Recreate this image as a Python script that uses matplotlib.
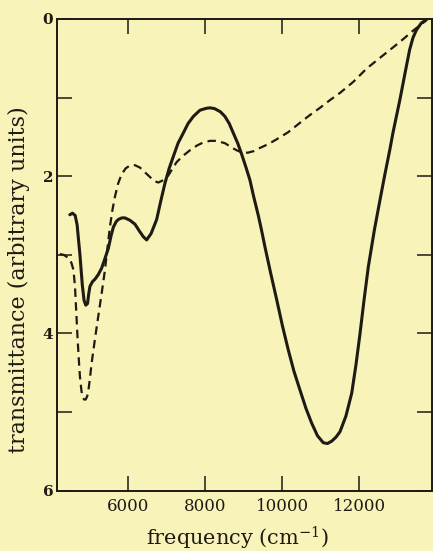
import numpy as np
import matplotlib
matplotlib.use('Agg')
import matplotlib.pyplot as plt

# solid curve (frequency in cm^-1, transmittance in arbitrary units)
solid_freq = [4490, 4560, 4630, 4680, 4753, 4814, 4860, 4905, 4950, 4980,
              5013, 5080, 5143, 5230, 5316, 5400, 5489, 5560, 5619, 5690,
              5749, 5840, 5922, 6050, 6182, 6300, 6400, 6485, 6600, 6745,
              6850, 6960, 7070, 7177, 7300, 7437, 7560, 7697, 7870, 8043,
              8130, 8250, 8400, 8519, 8630, 8735, 8850, 8952, 9060, 9168,
              9255, 9385, 9470, 9558, 9700, 9862, 10010, 10163, 10310, 10467,
              10620, 10770, 10920, 11072, 11180, 11290, 11400, 11506, 11660, 11810,
              11920, 12026, 12134, 12242, 12400, 12545, 12670, 12797, 12880, 12970,
              13060, 13143, 13230, 13315, 13400, 13490, 13620, 13750]
solid_val = [2.49, 2.47, 2.50, 2.62, 3.00, 3.38, 3.58, 3.64, 3.62, 3.50,
             3.40, 3.34, 3.31, 3.25, 3.17, 3.05, 2.92, 2.76, 2.65, 2.58,
             2.55, 2.53, 2.53, 2.56, 2.61, 2.70, 2.77, 2.81, 2.73, 2.55,
             2.32, 2.09, 1.90, 1.75, 1.58, 1.45, 1.33, 1.24, 1.16, 1.135,
             1.13, 1.14, 1.18, 1.24, 1.33, 1.45, 1.58, 1.72, 1.88, 2.05,
             2.24, 2.50, 2.69, 2.90, 3.22, 3.57, 3.90, 4.21, 4.48, 4.72,
             4.95, 5.14, 5.30, 5.39, 5.40, 5.37, 5.32, 5.25, 5.05, 4.76,
             4.40, 4.00, 3.56, 3.15, 2.68, 2.30, 1.98, 1.67, 1.45, 1.24,
             1.03, 0.82, 0.60, 0.39, 0.24, 0.14, 0.05, 0.01]

# dashed curve
dash_freq = [4230, 4330, 4454, 4530, 4584, 4624, 4660, 4693, 4730, 4753,
             4790, 4814, 4860, 4902, 4940, 4969, 5010, 5056, 5140, 5229,
             5320, 5403, 5470, 5533, 5600, 5662, 5740, 5830, 5940, 6060,
             6182, 6312, 6440, 6571, 6680, 6788, 6920, 7048, 7160, 7264,
             7430, 7610, 7790, 7957, 8130, 8303, 8519, 8680, 8822, 8970,
             9117, 9270, 9428, 9650, 9862, 10160, 10467, 10730, 10986, 11250,
             11506, 11850, 12199, 12630, 13065, 13400, 13740]
dash_val = [2.99, 3.00, 3.04, 3.10, 3.19, 3.40, 3.75, 4.08, 4.38, 4.55,
            4.72, 4.80, 4.84, 4.84, 4.80, 4.74, 4.58, 4.38, 4.08, 3.78,
            3.48, 3.19, 2.90, 2.64, 2.42, 2.26, 2.10, 1.98, 1.90, 1.86,
            1.86, 1.89, 1.95, 2.01, 2.06, 2.08, 2.05, 1.99, 1.90, 1.82,
            1.74, 1.67, 1.61, 1.57, 1.55, 1.55, 1.58, 1.63, 1.67, 1.70,
            1.70, 1.68, 1.64, 1.59, 1.53, 1.44, 1.32, 1.22, 1.13, 1.03,
            0.94, 0.80, 0.63, 0.46, 0.29, 0.15, 0.02]

xticks = [6000, 8000, 10000, 12000]
xticklabels = ['6000', '8000', '10000', '12000']
yticks = [0, 1, 2, 3, 4, 5, 6]
yticklabels = ['0', '', '2', '', '4', '', '6']

bg = '#f8f3b8'
ink = '#1e1a14'

plt.rcParams['mathtext.fontset'] = 'dejavuserif'
plt.rcParams['font.family'] = 'DejaVu Serif'

fig = plt.figure(figsize=(4.33, 5.51), dpi=100)
fig.patch.set_facecolor(bg)
ax = fig.add_axes([57.3/433, 60.3/551, 374.7/433, 471.7/551])
ax.set_facecolor(bg)

ax.plot(solid_freq, solid_val, color=ink, lw=2.2, solid_capstyle='round',
        solid_joinstyle='round')
ax.plot(dash_freq, dash_val, color=ink, lw=1.6, linestyle=(0, (3.8, 2.4)))

ax.set_xlim(4165, 13895)
ax.set_ylim(6, 0)

ax.set_xticks(xticks)
ax.set_xticklabels(xticklabels, fontsize=12, color=ink)
ax.set_yticks(yticks)
ax.set_yticklabels(yticklabels, fontsize=11, fontweight='bold', color=ink)
ax.tick_params(axis='both', direction='in', length=10.5, width=1.1, color=ink,
               top=True, right=True)
ax.tick_params(axis='x', pad=5)
ax.tick_params(axis='y', pad=3)

for s in ax.spines.values():
    s.set_color(ink)
    s.set_linewidth(1.4)

fig.text(0.5 * (148 + 328) / 433, 1 - 538 / 551, 'frequency (cm$^{-1}$)',
         ha='center', va='center', fontsize=15, color=ink)
fig.text(19 / 433, 1 - 280 / 551, 'transmittance (arbitrary units)',
         ha='center', va='center', rotation=90, fontsize=16, color=ink)

fig.savefig('out.png', dpi=100, facecolor=bg)
